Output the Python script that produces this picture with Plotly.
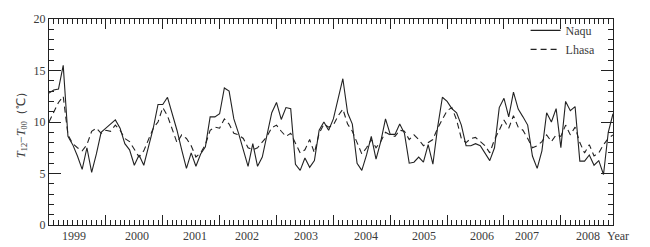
import plotly.graph_objects as go

# monthly index, Jan 1999 (0) .. Dec 2008 (119)
months = list(range(120))

naqu = [12.8, 13.1, 13.2, 15.5, 8.6, 7.8, 6.7, 5.4, 7.5, 5.1, 6.9, 9.0,
        9.4, 9.8, 10.2, 9.4, 7.9, 7.3, 5.8, 6.8, 5.8, 7.6, 9.4, 11.7,
        11.7, 12.4, 10.9, 9.2, 7.3, 5.5, 7.0, 5.7, 6.9, 7.6, 10.5, 10.5,
        10.8, 13.3, 13.0, 10.3, 8.9, 7.3, 5.7, 7.9, 5.7, 6.6, 8.8, 10.9,
        11.9, 10.25, 11.4, 11.3, 5.9, 5.3, 6.5, 5.6, 6.25, 9.2, 10.0, 9.2,
        10.3, 12.2, 14.2, 10.9, 9.8, 6.0, 5.3, 6.8, 8.6, 6.4, 8.1, 10.3,
        8.8, 8.8, 9.8, 8.9, 6.0, 6.1, 6.6, 6.1, 7.8, 5.9, 9.5, 12.4,
        12.0, 11.3, 10.9, 9.7, 7.7, 7.7, 7.9, 7.7, 7.0, 6.25, 7.5, 11.4,
        12.3, 10.5, 12.9, 11.25, 10.5, 9.7, 6.7, 5.5, 7.2, 10.9, 10.0, 11.3,
        7.5, 12.0, 11.1, 11.5, 6.2, 6.2, 6.8, 5.8, 6.25, 4.9, 9.0, 10.8]

lhasa = [10.0, 10.9, 11.9, 12.5, 8.75, 7.9, 7.5, 7.2, 7.8, 9.1, 9.4, 8.9,
         9.2, 9.1, 9.7, 9.2, 8.4, 8.1, 7.4, 6.6, 7.2, 8.4, 9.4, 10.0,
         11.4, 10.6, 9.4, 8.0, 8.75, 8.4, 7.7, 6.6, 7.0, 7.8, 9.2, 9.5,
         9.4, 10.3, 9.8, 8.9, 8.75, 8.4, 7.5, 7.3, 7.5, 8.0, 8.6, 9.45,
         9.7, 9.1, 8.6, 8.9, 8.0, 7.0, 7.3, 8.3, 7.0, 8.9, 9.8, 9.5,
         9.7, 10.6, 11.25, 9.8, 9.1, 8.0, 6.9, 7.5, 8.3, 7.5, 8.1, 9.0,
         8.75, 8.6, 9.2, 9.1, 8.3, 8.75, 8.3, 7.7, 8.0, 8.3, 9.4, 10.3,
         11.1, 11.4, 10.2, 8.4, 8.0, 8.4, 8.5, 8.1, 7.7, 7.0, 8.3, 9.2,
         10.2, 9.4, 10.6, 9.5, 9.2, 8.4, 7.5, 7.7, 8.1, 8.75, 8.1, 8.75,
         8.6, 9.7, 8.75, 9.5, 8.0, 7.0, 7.8, 6.7, 7.0, 7.8, 8.4, 8.75]

year_labels = ["1999", "2000", "2001", "2002", "2003",
               "2004", "2005", "2006", "2007", "2008"]
year_label_pos = [5.3, 18.6, 30.8, 41.8, 54.3, 66.9, 79.2, 91.4, 100.9, 113.8]
year_bounds = [12, 24, 36, 48, 60, 72, 84, 96, 108]
y_ticks = [0, 5, 10, 15, 20]

FONT = "Liberation Serif"
INK = "#222222"
TXT = "#3a3a3a"

fig = go.Figure()
fig.add_trace(go.Scatter(x=months, y=naqu, mode="lines", name="Naqu",
                         line=dict(color=INK, width=1.1)))
fig.add_trace(go.Scatter(x=months, y=lhasa, mode="lines", name="Lhasa",
                         line=dict(color=INK, width=1.1, dash="6px,4px")))

for lab, pos in zip(year_labels, year_label_pos):
    fig.add_annotation(x=pos, y=0, xref="x", yref="paper", text=lab,
                       showarrow=False, xanchor="center", yanchor="top", yshift=-2,
                       font=dict(family=FONT, size=12, color=TXT))
fig.add_annotation(x=1.0095, y=0, xref="paper", yref="paper", text="Year",
                   showarrow=False, xanchor="center", yanchor="top", yshift=-2,
                   font=dict(family=FONT, size=12, color=TXT))

fig.update_layout(
    width=650, height=247,
    margin=dict(l=49, r=37, t=13, b=22),
    paper_bgcolor="white", plot_bgcolor="white",
    font=dict(family=FONT, size=12, color=TXT),
    showlegend=True,
    legend=dict(x=0.978, y=1.015, xanchor="right", yanchor="top",
                bgcolor="rgba(0,0,0,0)", font=dict(family=FONT, size=12, color=TXT),
                tracegroupgap=0, itemwidth=30),
    xaxis=dict(range=[0, 119], showgrid=False, zeroline=False,
               showline=True, linecolor=INK, linewidth=1, mirror="allticks",
               ticks="inside", ticklen=10, tickcolor=INK, tickwidth=1,
               tickvals=year_bounds, ticktext=[""] * len(year_bounds),
               minor=dict(ticks="inside", dtick=1, tick0=0, ticklen=5,
                          tickcolor=INK, tickwidth=1, showgrid=False)),
    yaxis=dict(range=[0, 20], showgrid=False, zeroline=False,
               showline=True, linecolor=INK, linewidth=1, mirror="allticks",
               ticks="inside", ticklen=12, tickcolor=INK, tickwidth=1,
               tickvals=y_ticks, ticktext=[str(v) for v in y_ticks],
               tickfont=dict(family=FONT, size=12, color=TXT),
               minor=dict(ticks="inside", dtick=1, ticklen=5,
                          tickcolor=INK, tickwidth=1, showgrid=False),
               title=dict(text="<i>T</i><sub>12</sub>−<i>T</i><sub>00</sub>（℃）",
                          font=dict(family=FONT, size=12, color=TXT),
                          standoff=5)),
)

fig.write_html("out.html", config={"displayModeBar": False},
               post_script="document.body.style.margin='0';document.body.style.padding='0';")
